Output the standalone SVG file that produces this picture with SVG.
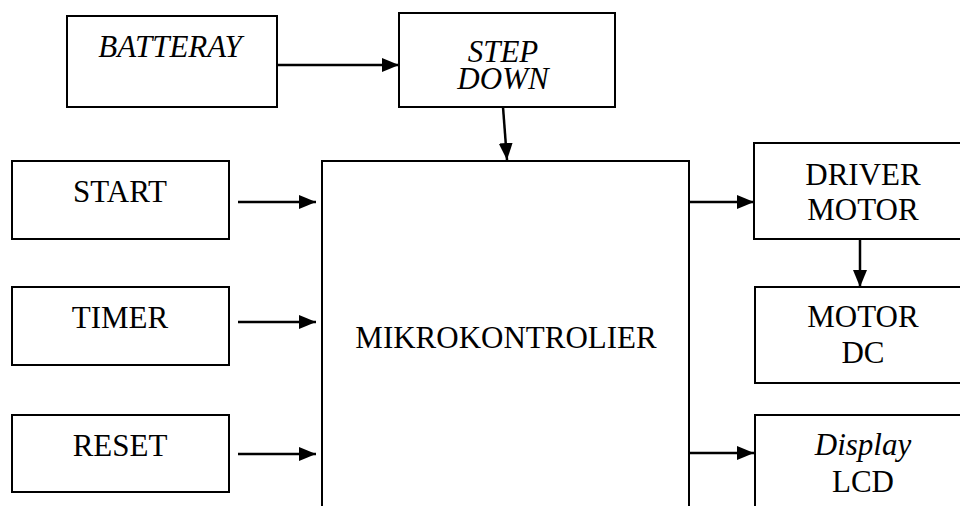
<svg xmlns="http://www.w3.org/2000/svg" width="960" height="506" viewBox="0 0 960 506">
<defs>
<style>
.box{fill:#fff;stroke:#000;stroke-width:2}
.c{fill:none;stroke:#000;stroke-width:2.5;marker-end:url(#ah)}
</style>
<marker id="ah" markerUnits="userSpaceOnUse" markerWidth="17" markerHeight="14" refX="17" refY="7" orient="auto">
<path d="M0,0 L17,7 L0,14 Z" fill="#000"/>
</marker>
</defs>
<rect width="960" height="506" fill="#fff"/>
<g font-family="Liberation Serif, Times New Roman, serif" font-size="31" text-anchor="middle" fill="#000">
<g id="battery"><rect class="box" x="67" y="16" width="210" height="91"/><text x="170" y="57" font-style="italic">BATTERAY</text></g>
<g id="stepdown"><rect class="box" x="399" y="13" width="216" height="94"/><text x="503" y="62" font-style="italic">STEP</text><text x="503" y="89" font-style="italic">DOWN</text></g>
<g id="start"><rect class="box" x="12" y="161" width="217" height="78"/><text x="120" y="202">START</text></g>
<g id="timer"><rect class="box" x="12" y="287" width="217" height="78"/><text x="120" y="328">TIMER</text></g>
<g id="reset"><rect class="box" x="12" y="415" width="217" height="77"/><text x="120" y="456">RESET</text></g>
<g id="mikro"><rect class="box" x="322" y="161" width="367" height="360"/><text x="506" y="348">MIKROKONTROLIER</text></g>
<g id="driver"><rect class="box" x="754" y="143" width="220" height="96"/><text x="863" y="185">DRIVER</text><text x="863" y="220">MOTOR</text></g>
<g id="motordc"><rect class="box" x="755" y="287" width="220" height="96"/><text x="863" y="327">MOTOR</text><text x="863" y="363">DC</text></g>
<g id="lcd"><rect class="box" x="755" y="415" width="220" height="120"/><text x="863" y="455" font-style="italic">Display</text><text x="863" y="492">LCD</text></g>
</g>
<g id="connectors">
<line class="c" x1="277" y1="65" x2="399" y2="65"/>
<line class="c" x1="503" y1="107" x2="507" y2="160"/>
<line class="c" x1="238" y1="202" x2="316" y2="202"/>
<line class="c" x1="238" y1="322" x2="316" y2="322"/>
<line class="c" x1="238" y1="454" x2="316" y2="454"/>
<line class="c" x1="689" y1="202" x2="754" y2="202"/>
<line class="c" x1="860" y1="239" x2="860" y2="287"/>
<line class="c" x1="689" y1="453" x2="754" y2="453"/>
</g>
</svg>
